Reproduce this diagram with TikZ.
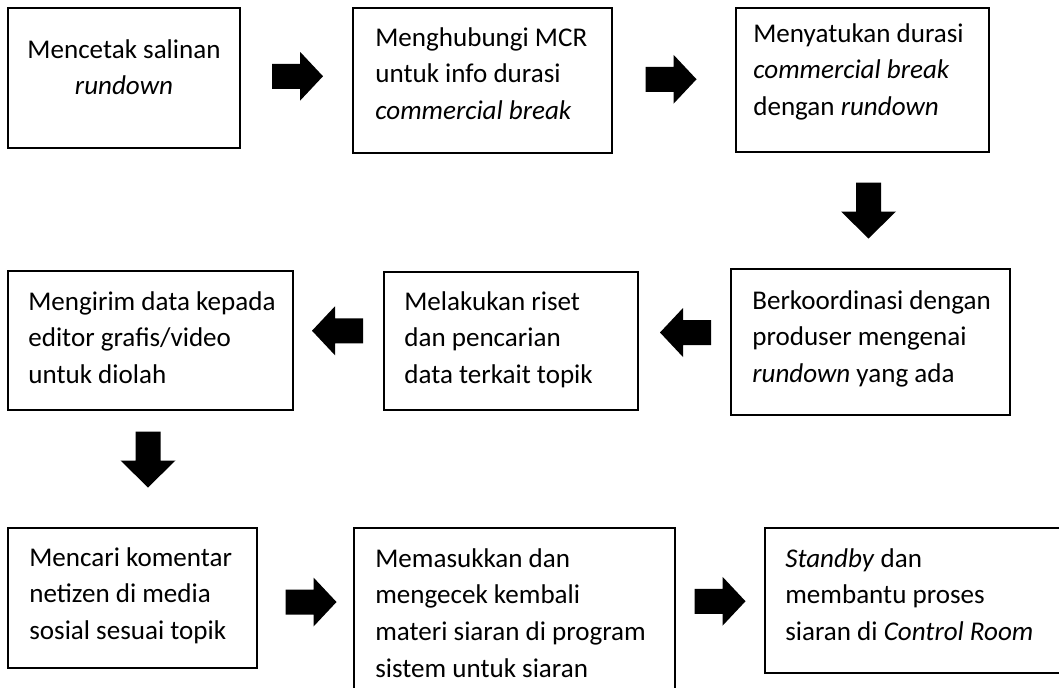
\documentclass[tikz,border=0pt]{standalone}
\usepackage{fontspec}
\setmainfont{Carlito}
\usepackage{tikz}
\usetikzlibrary{fit,calc}

\begin{document}
\begin{tikzpicture}[x=0.02cm, y=-0.02cm,
    box/.style={rectangle, draw, line width=1.3pt, inner sep=0pt},
    txt/.style={inner sep=0pt, anchor=base west, font=\fontsize{15.4}{21}\selectfont},
    harrow/.pic={\fill (-25.5,-12.5) -- (2.5,-12.5) -- (2.5,-24.5) -- (25.5,0) -- (2.5,24.5) -- (2.5,12.5) -- (-25.5,12.5) -- cycle;},
    varrow/.pic={\fill (-12.5,-28) -- (12.5,-28) -- (12.5,1) -- (27.5,1) -- (0,28) -- (-27.5,1) -- (-12.5,1) -- cycle;}]
    \useasboundingbox (0,0) rectangle (1059,687);
    \clip (0,0) rectangle (1059,687);

    \node [box, fit={(8,8) (240,148)}] (b1) {};
    \node [box, fit={(353,8) (612,153)}] (b2) {};
    \node [box, fit={(736,8) (989,152)}] (b3) {};
    \node [box, fit={(8,271) (293,410)}] (b4) {};
    \node [box, fit={(384,272) (638,410)}] (b5) {};
    \node [box, fit={(731,269) (1010,415)}] (b6) {};
    \node [box, fit={(8,528) (257,668)}] (b7) {};
    \node [box, fit={(354,528) (675,700)}] (b8) {};
    \node [box, fit={(765,528) (1070,673)}] (b9) {};

    \node [txt, anchor=base] (t1) at (124,58) {\parbox[t]{4.4cm}{\centering Mencetak salinan\\\textit{rundown}}};
    \node [txt] (t2) at (375,46) {\parbox[t]{4.6cm}{\raggedright Menghubungi MCR\\untuk info durasi\\\textit{commercial break}}};
    \node [txt] (t3) at (753,42) {\parbox[t]{4.6cm}{\raggedright Menyatukan durasi\\\textit{commercial break}\\dengan \textit{rundown}}};
    \node [txt] (t4) at (28,310) {\parbox[t]{5.2cm}{\raggedright Mengirim data kepada\\editor grafis/video\\untuk diolah}};
    \node [txt] (t5) at (404,310) {\parbox[t]{4.4cm}{\raggedright Melakukan riset\\dan pencarian\\data terkait topik}};
    \node [txt] (t6) at (752,309) {\parbox[t]{5.1cm}{\raggedright Berkoordinasi dengan\\produser mengenai\\\textit{rundown} yang ada}};
    \node [txt] (t7) at (29,566) {\parbox[t]{4.5cm}{\raggedright Mencari komentar\\netizen di media\\sosial sesuai topik}};
    \node [txt] (t8) at (375,567) {\parbox[t]{5.8cm}{\raggedright Memasukkan dan\\mengecek kembali\\materi siaran di program\\sistem untuk siaran}};
    \node [txt] (t9) at (785,567) {\parbox[t]{5.2cm}{\raggedright \textit{Standby} dan\\membantu proses\\siaran di \textit{Control Room}}};

    \pic at ($(b1.east)!.5!(b2.west)+(1,-3)$) {harrow};
    \pic at ($(b2.east)!.5!(b3.west)+(-3,-1)$) {harrow};
    \pic at ($(b3.south)!.5!(b6.north)+(2,0)$) {varrow};
    \pic [rotate=180] at ($(b6.west)!.5!(b5.east)+(1,-9)$) {harrow};
    \pic [rotate=180] at ($(b5.west)!.5!(b4.east)+(-1,-10)$) {harrow};
    \pic at ($(b4.south)!.5!(b7.north)+(6.5,-9.5)$) {varrow};
    \pic at ($(b7.east)!.5!(b8.west)+(5.5,-4)$) {harrow};
    \pic at ($(b8.east)!.5!(b9.west)+(0,-6)$) {harrow};
\end{tikzpicture}
\end{document}
